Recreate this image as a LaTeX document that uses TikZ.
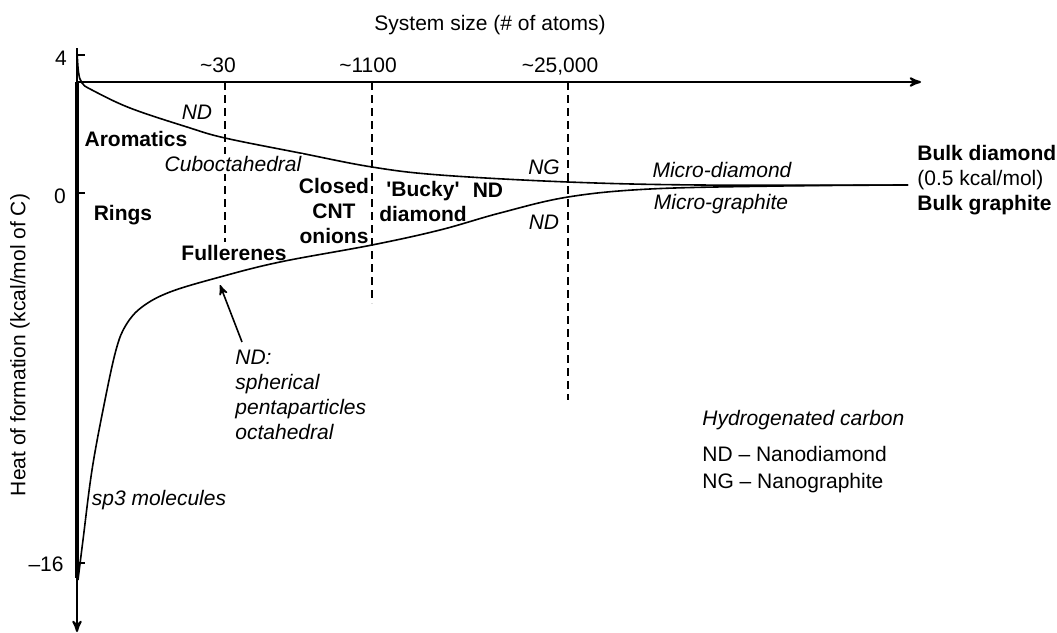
\documentclass[tikz,border=0pt]{standalone}
\usepackage{fontspec}
\setmainfont{Liberation Sans}
\usetikzlibrary{positioning, arrows}
\tikzset{
>=stealth', % arrow heads of the axes and the pointer
axis/.style={line width=1pt}, % the two axes
curve/.style={line width=0.8pt}, % the two heat of formation branches
guide/.style={line width=0.6pt, dash pattern=on 4pt off 2.5pt}, % dashed size marks
lbl/.style={inner sep=0pt, font=\fontsize{10.5}{12.5}\selectfont}, % plain text
blbl/.style={lbl, font=\fontsize{10.5}{12.5}\selectfont\bfseries}, % bold region names
ilbl/.style={lbl, font=\fontsize{10.5}{12.5}\selectfont\itshape}, % italic particle names
}

\begin{document}
\begin{tikzpicture}[x=0.5pt, y=-0.5pt]
    \useasboundingbox (0,0) rectangle (1057,633);

    % axes
    \coordinate (ytop) at (77,48);
    \coordinate (ybot) at (77,632);
    \coordinate (orig) at (77,82);
    \coordinate (xend) at (921,82);
    \draw[axis,->] (ytop) -- (ybot);
    \draw[axis,->] (orig) -- (xend);
    \draw[line width=1.6pt] (orig) -- (77,578);

    % ticks and their values
    \draw[axis] (77,55) -- (85,55);
    \draw[axis] (77,193) -- (85,193);
    \draw[axis] (75,563) -- (85,563);
    \node[lbl] (t4) at (61,58) {4};
    \node[lbl] (t0) at (60,196) {0};
    \node[lbl, anchor=east] (t16) at (64,564) {–16};

    % axis titles
    \node[lbl] (xtitle) at (490,25) {System size (\# of atoms)};
    \node[lbl, rotate=90] (ytitle) at (20,345) {Heat of formation (kcal/mol of C)};

    % size marks
    \node[lbl, anchor=base] (n30) at (218,72) {\textasciitilde30};
    \node[lbl, anchor=base] (n1100) at (368,72) {\textasciitilde1100};
    \node[lbl, anchor=base] (n25000) at (560,72) {\textasciitilde25,000};
    \draw[guide] (225,82) -- (225,242);
    \draw[guide] (372,82) -- (372,303);
    \draw[guide] (568,82) -- (568,400);

    % upper branch (nanodiamond)
    \draw[curve] plot[smooth, tension=0.6] coordinates {(77,50) (78.5,72) (82,83)
        (92,90) (130,108) (187,127) (225,138) (300,153) (372,167) (440,175)
        (568,182) (700,185) (908,185)};
    % lower branch (fullerenes, graphite)
    \draw[curve] plot[smooth, tension=0.6] coordinates {(78,580) (83,540) (92,470)
        (104,405) (116,350) (126,325) (142,307) (170,292) (220,277) (280,262)
        (372,245) (440,230) (500,213) (568,197) (650,189) (780,186) (908,185)};

    % regions
    \node[ilbl] (nd1) at (197,112) {ND};
    \node[blbl] (arom) at (136,139) {Aromatics};
    \node[ilbl, fill=white, inner sep=1pt] (cubo) at (233,164) {Cuboctahedral};
    \node[blbl] (rings) at (123,215) {Rings};
    \node[blbl] (full) at (234,253) {Fullerenes};
    \node[blbl, align=center] (cnt) at (334,211) {Closed\\CNT\\onions};
    \node[blbl, align=center] (bucky) at (423,201) {\textquotesingle Bucky\textquotesingle\\diamond};
    \node[blbl] (nd2) at (488,190) {ND};
    \node[ilbl] (ng) at (544,167) {NG};
    \node[ilbl] (nd3) at (544,222) {ND};
    \node[ilbl] (mdia) at (722,170) {Micro-diamond};
    \node[ilbl] (mgra) at (721,204) {Micro-graphite};
    \node[lbl, anchor=west, align=left] (bulk) at (917,180)
        {\textbf{Bulk diamond}\\(0.5 kcal/mol)\\\textbf{Bulk graphite}};
    \node[ilbl] (sp3) at (159,500) {sp3 molecules};

    % spherical particles pointer
    \node[ilbl, anchor=north west, align=left] (ndsph) at (235,350)
        {ND:\\spherical\\pentaparticles\\octahedral};
    \coordinate (tip) at (220,285);
    \draw[line width=0.8pt,->] (242,342) -- (tip);

    % legend
    \node[ilbl, anchor=west] (leg) at (702,420) {Hydrogenated carbon};
    \node[lbl, below=8pt of leg.south west, anchor=north west] (legnd) {ND – Nanodiamond};
    \node[lbl, below=5pt of legnd.south west, anchor=north west] (legng) {NG – Nanographite};
\end{tikzpicture}
\end{document}
